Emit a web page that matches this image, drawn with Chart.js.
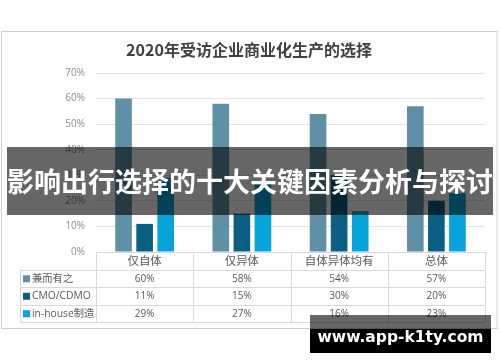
<!DOCTYPE html>
<html><head><meta charset="utf-8">
<script src="https://cdn.jsdelivr.net/npm/chart.js@4/dist/chart.umd.min.js"></script>
<style>
html,body{margin:0;padding:0;background:#fff;}
#wrap{position:relative;width:500px;height:362px;overflow:hidden;}
canvas{position:absolute;left:0;top:0;}
#banner{position:absolute;left:7px;top:147px;width:486px;height:68px;background:rgba(0,0,0,0.6);color:#fff;
 font-family:"Noto Sans CJK SC";font-weight:bold;font-size:27px;line-height:68px;text-align:center;white-space:nowrap;letter-spacing:0px;}
#wm1{position:absolute;left:310px;top:315px;width:181px;height:14px;background:rgba(0,0,0,0.6);}
#wm2{position:absolute;left:310px;top:329px;width:181px;height:24px;background:#000;}
#wmt{position:absolute;left:310px;top:323px;width:181px;height:28px;color:#fff;font-family:"DejaVu Sans";font-weight:bold;font-size:15.5px;line-height:28px;text-align:center;white-space:nowrap;}
</style></head>
<body><div id="wrap"><canvas id="c" width="500" height="362"></canvas>
<div id="banner">影响出行选择的十大关键因素分析与探讨</div>
<div id="wm1"></div><div id="wm2"></div><div id="wmt">www.app-k1ty.com</div>
</div>
<script>
const title = "2020年受访企业商业化生产的选择";
const categories = ["仅自体", "仅异体", "自体异体均有", "总体"];
const seriesNames = ["兼而有之", "CMO/CDMO", "in-house制造"];
const both = [60, 58, 54, 57];
const cmo = [11, 15, 30, 20];
const inhouse = [29, 27, 16, 23];
const colors = ["#5E91A8", "#0A5F82", "#07A3DB"];
const yTicks = [0, 10, 20, 30, 40, 50, 60, 70];

const seriesData = [both, cmo, inhouse];
const FONT = '"Open Sans","Noto Sans CJK SC"';

const framePlugin = {
  id: 'frame',
  beforeDraw(chart) {
    const ctx = chart.ctx;
    ctx.save();
    ctx.fillStyle = '#fff';
    ctx.fillRect(0, 0, 500, 362);
    ctx.strokeStyle = '#cfcfcf';
    ctx.lineWidth = 1;
    ctx.strokeRect(1.5, 31.5, 495.5, 297);
    ctx.fillStyle = '#404040';
    ctx.font = 'bold 16px "Noto Sans CJK SC"';
    ctx.textAlign = 'center';
    ctx.textBaseline = 'middle';
    ctx.fillText(title, 249, 50);
    ctx.restore();
  },
  afterDraw(chart) {
    const ctx = chart.ctx;
    const xs = chart.scales.x;
    const area = chart.chartArea;
    const n = categories.length;
    const cw = (area.right - area.left) / n;
    const rows = [area.bottom, area.bottom + 17.5, area.bottom + 35, area.bottom + 52.5, area.bottom + 70];
    const leftCol = 20;
    ctx.save();
    ctx.strokeStyle = '#d9d9d9';
    ctx.lineWidth = 1;
    ctx.beginPath();
    ctx.moveTo(area.left, Math.round(rows[0]) + 0.5); ctx.lineTo(area.right, Math.round(rows[0]) + 0.5);
    for (let r = 1; r < rows.length; r++) {
      const y = Math.round(rows[r]) + 0.5;
      ctx.moveTo(leftCol, y); ctx.lineTo(area.right, y);
    }
    ctx.moveTo(leftCol + 0.5, rows[1]); ctx.lineTo(leftCol + 0.5, rows[4]);
    for (let i = 0; i <= n; i++) {
      const x = Math.round(area.left + i * cw) + 0.5;
      ctx.moveTo(x, rows[0]); ctx.lineTo(x, rows[4]);
    }
    ctx.stroke();
    ctx.textAlign = 'center';
    ctx.textBaseline = 'middle';
    ctx.fillStyle = '#595959';
    ctx.font = '11.5px ' + FONT;
    for (let i = 0; i < n; i++) {
      const cx = xs.getPixelForValue(i);
      ctx.fillText(categories[i], cx, (rows[0] + rows[1]) / 2 + 0.5);
    }
    for (let s = 0; s < seriesData.length; s++) {
      const cy = (rows[s + 1] + rows[s + 2]) / 2 + 0.5;
      ctx.font = '10px ' + FONT;
      ctx.textAlign = 'center';
      ctx.fillStyle = '#595959';
      for (let i = 0; i < n; i++) {
        ctx.fillText(seriesData[s][i] + '%', xs.getPixelForValue(i), cy);
      }
      ctx.fillStyle = colors[s];
      ctx.fillRect(23, cy - 3.5, 7, 7);
      ctx.fillStyle = '#595959';
      ctx.textAlign = 'left';
      ctx.font = '10.3px ' + FONT;
      ctx.fillText(seriesNames[s], 32, cy);
    }
    ctx.restore();
  }
};

new Chart(document.getElementById('c'), {
  type: 'bar',
  data: {
    labels: categories,
    datasets: seriesNames.map((name, i) => ({
      label: name,
      data: seriesData[i],
      backgroundColor: colors[i],
      borderWidth: 0,
      categoryPercentage: 0.65,
      barPercentage: 0.79
    }))
  },
  options: {
    responsive: false,
    animation: false,
    devicePixelRatio: 1,
    layout: { padding: { left: 0, right: 15, top: 73, bottom: 110 } },
    plugins: { legend: { display: false }, title: { display: false }, tooltip: { enabled: false } },
    scales: {
      x: { display: false },
      y: {
        min: 0, max: 70,
        afterFit(scale) { scale.width = 96; },
        afterBuildTicks(scale) { scale.ticks = yTicks.map(v => ({ value: v })); },
        ticks: { callback: v => v + '%', color: '#8c8c8c', font: { size: 10, family: FONT }, padding: 11 },
        grid: { color: ctx => ctx.tick && ctx.tick.value === 0 ? 'rgba(0,0,0,0)' : '#e3e3e3', drawTicks: false },
        border: { display: false }
      }
    }
  },
  plugins: [framePlugin]
});
</script>
</body></html>
